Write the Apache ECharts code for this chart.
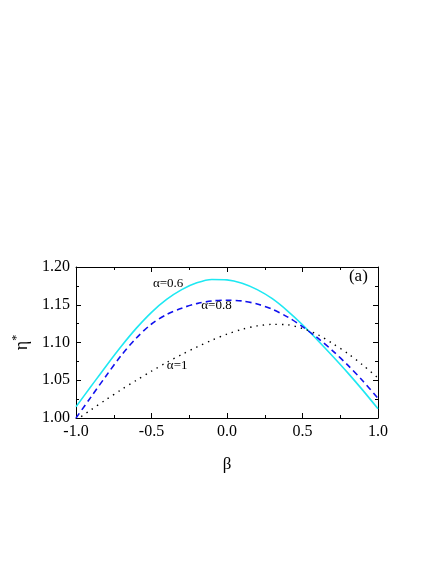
<!DOCTYPE html>
<html>
<head>
<meta charset="utf-8">
<script src="https://cdn.jsdelivr.net/npm/echarts@6/dist/echarts.min.js"></script>
<style>html,body{margin:0;padding:0;background:#fff;}#c{width:436px;height:564px;}</style>
</head>
<body>
<div id="c"></div>
<script>
var beta = [-1.0,-0.9,-0.8,-0.7,-0.6,-0.5,-0.4,-0.3,-0.2,-0.1,0.0,0.1,0.2,0.3,0.4,0.5,0.6,0.7,0.8,0.9,1.0];
var eta06 = [1.015,1.042,1.069,1.095,1.119,1.140,1.157,1.170,1.179,1.1835,1.183,1.1785,1.170,1.158,1.142,1.1235,1.103,1.0818,1.0598,1.0366,1.0122];
var eta08 = [1.000,1.028,1.056,1.083,1.106,1.1245,1.137,1.1455,1.1515,1.155,1.156,1.155,1.151,1.144,1.134,1.121,1.106,1.089,1.070,1.049,1.026];
var eta10 = [0.997,1.011,1.0245,1.0375,1.050,1.062,1.0735,1.084,1.094,1.103,1.111,1.1175,1.122,1.124,1.1235,1.1185,1.1105,1.0985,1.0855,1.070,1.053];
var xTicks = [-1.0,-0.5,0.0,0.5,1.0];
var yTicks = [1.00,1.05,1.10,1.15,1.20];
var labels = [
  {text:'\u03b1=0.6', x:-0.39, y:1.178},
  {text:'\u03b1=0.8', x:-0.07, y:1.149},
  {text:'\u03b1=1', x:-0.33, y:1.0695}
];
var panelTag = {text:'(a)', x:0.87, y:1.188};

function zip(xs, ys){ return xs.map(function(x,i){return [x, ys[i]];}); }
var FONT = '"Liberation Serif","Times New Roman",serif';

var chart = echarts.init(document.getElementById('c'), null, {renderer:'canvas'});
function axisCommon(showLabel, fmt){
  return {
    axisLine:{show:true, onZero:false, lineStyle:{color:'#000', width:1}},
    axisTick:{show:true, inside:true, length:5, lineStyle:{color:'#000', width:1}},
    minorTick:{show:true, splitNumber:2, length:3, lineStyle:{color:'#000', width:1}},
    splitLine:{show:false},
    axisLabel:{show:showLabel, color:'#000', fontFamily:FONT, fontSize:16, margin:6, formatter:fmt}
  };
}
var xfmt = function(v){ return xTicks.indexOf(+v.toFixed(2))>=0 ? v.toFixed(1) : ''; };
var yfmt = function(v){ return yTicks.indexOf(+v.toFixed(2))>=0 ? v.toFixed(2) : ''; };

var ann = labels.map(function(l){
  return {coord:[l.x,l.y], symbol:'circle', symbolSize:0,
    label:{show:true, formatter:l.text, position:'inside', color:'#000', fontFamily:FONT, fontSize:13}};
});
ann.push({coord:[panelTag.x,panelTag.y], symbol:'circle', symbolSize:0,
  label:{show:true, formatter:panelTag.text, position:'inside', color:'#000', fontFamily:FONT, fontSize:17}});

var option = {
  animation:false,
  backgroundColor:'#fff',
  grid:{left:76, right:58, top:267, bottom:146, containLabel:false},
  xAxis:[
    Object.assign({type:'value', min:-1, max:1, interval:0.5, position:'bottom',
      name:'\u03b2', nameLocation:'middle', nameGap:38,
      nameTextStyle:{color:'#000', fontFamily:FONT, fontSize:17}
      }, axisCommon(true, xfmt)),
    Object.assign({type:'value', min:-1, max:1, interval:0.5, position:'top'}, axisCommon(false))
  ],
  yAxis:[
    Object.assign({type:'value', min:1.0, max:1.2, interval:0.05, position:'left',
      name:'{e|\u03b7}{s|*}', nameLocation:'middle', nameGap:41, nameRotate:90,
      nameTextStyle:{color:'#000', fontFamily:FONT, fontSize:17,
        rich:{e:{fontFamily:FONT, fontSize:18, color:'#000'}, s:{fontFamily:FONT, fontSize:12, color:'#000', verticalAlign:'top', padding:[0,0,10,0]}}}
      }, axisCommon(true, yfmt)),
    Object.assign({type:'value', min:1.0, max:1.2, interval:0.05, position:'right'}, axisCommon(false))
  ],
  series:[
    {type:'line', name:'0.6', data:zip(beta, eta06), smooth:0.3, showSymbol:false, symbol:'none',
     lineStyle:{color:'#1ee8f2', width:1.6, type:'solid'}, clip:true, markPoint:{data:ann, animation:false}},
    {type:'line', name:'0.8', data:zip(beta, eta08), smooth:0.3, showSymbol:false, symbol:'none',
     lineStyle:{color:'#1010ee', width:1.6, type:[6,4]}, clip:true},
    {type:'line', name:'1', data:zip(beta, eta10), smooth:0.3, showSymbol:false, symbol:'none',
     lineStyle:{color:'#000', width:1.4, type:[1.4,5]}, clip:true}
  ]
};
chart.setOption(option);
</script>
</body>
</html>
